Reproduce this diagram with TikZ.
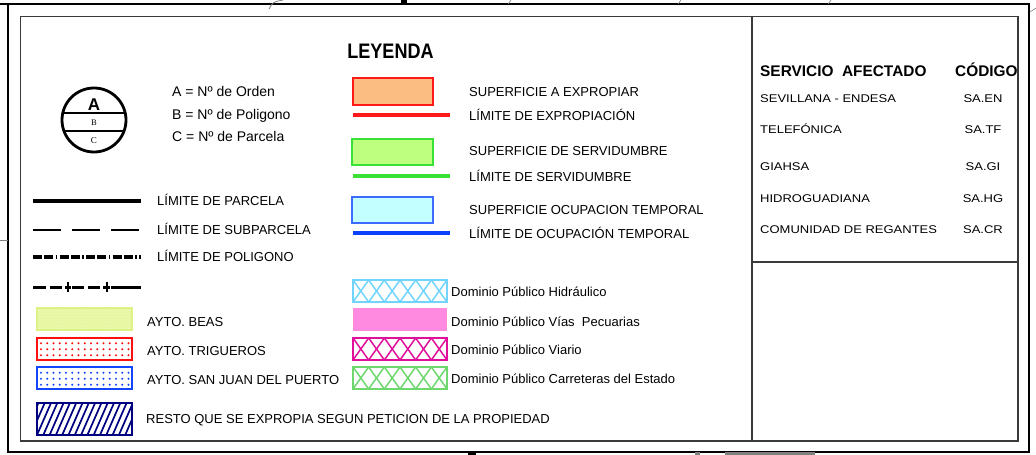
\documentclass[tikz,border=0pt]{standalone}
\usepackage{fontspec}
\setmainfont{Liberation Sans}
\newfontfamily\headfont{Liberation Sans Bold}
\newfontfamily\leyfont[FakeStretch=0.86]{Liberation Sans Bold}
\newfontfamily\tabfont[FakeStretch=1.16]{Liberation Sans}
\newfontfamily\serfont{Liberation Serif}
\usetikzlibrary{patterns}
\definecolor{expfill}{HTML}{FBBD82}
\definecolor{expline}{HTML}{FF1A1A}
\definecolor{serfill}{HTML}{BFFF80}
\definecolor{serline}{HTML}{38E038}
\definecolor{ocufill}{HTML}{C4FFFF}
\definecolor{oculine}{HTML}{3D6BFF}
\definecolor{ocuthick}{HTML}{0A40FF}
\definecolor{hidra}{HTML}{70D4FF}
\definecolor{pecu}{HTML}{FF8AE0}
\definecolor{viario}{HTML}{E0109C}
\definecolor{carre}{HTML}{6ED86E}
\definecolor{beas}{HTML}{DDF285}
\definecolor{beasfill}{HTML}{E6F7A0}
\definecolor{trig}{HTML}{FF1010}
\definecolor{sanjuan}{HTML}{1446FF}
\definecolor{resto}{HTML}{000080}
\definecolor{framegray}{HTML}{3A3A3A}
\definecolor{stray}{HTML}{808080}
\newcommand\myxhatch[3]{%
  \begin{scope}
    \clip (353,#1) rectangle (447,#2);
    \foreach \k in {0,...,5}{%
      \draw[#3,line width=1.5pt] (353+\k*15.67,#1) -- (368.67+\k*15.67,#2);
      \draw[#3,line width=1.5pt] (368.67+\k*15.67,#1) -- (353+\k*15.67,#2);}
  \end{scope}
  \draw[#3,line width=2pt] (353,#1) rectangle (447,#2);}
\begin{document}
\begin{tikzpicture}[x=1pt,y=-1pt,
  txt/.style={anchor=base west,inner sep=0pt,font=\fontsize{13}{15}\selectfont},
  txtA/.style={anchor=base west,inner sep=0pt,font=\fontsize{14}{16}\selectfont},
  tab/.style={anchor=base west,inner sep=0pt,font=\tabfont\fontsize{11.2}{13}\selectfont},
  tabc/.style={anchor=base,inner sep=0pt,font=\tabfont\fontsize{11.2}{13}\selectfont},
  head/.style={anchor=base west,inner sep=0pt,font=\headfont\fontsize{15.4}{17}\selectfont},
  swatch/.style={line width=1.8pt},
  limline/.style={line width=3.4pt}]
\useasboundingbox (0,0) rectangle (1036,455);
% frames
\draw[line width=2.4pt] (0,4) -- (1029,4) -- (1029,452) -- (8,452) -- (8,4);
\draw[framegray,line width=1.4pt] (20.5,16.5) rectangle (1018,441);
\draw[framegray,line width=1.1pt] (752,16.5) -- (752,441);
\draw[framegray,line width=1.1pt] (752,262) -- (1018,262);
% stray marks outside the frame
\draw[stray,line width=0.8pt] (283,0) .. controls (273,2) .. (269,9);
\fill (401,0) rectangle (407,5);
\draw[stray,line width=0.6pt] (508,4) -- (511,0);
\draw[stray,line width=0.6pt] (678,4) -- (681,0);
\draw[stray,line width=0.6pt] (828,4) -- (831,0);
\draw[stray,line width=0.6pt] (1030,12) -- (1036,8);
\draw[stray,line width=0.8pt] (0,240) -- (8,240);
\fill (468,452) rectangle (476,455);
\fill[stray] (695,452) rectangle (700,455);
\fill[stray] (725,452) rectangle (815,455);
% title
\node[anchor=base,inner sep=0pt,font=\leyfont\fontsize{21}{23}\selectfont] (ley) at (390.5,58) {LEYENDA};
% circle symbol
\begin{scope}
  \clip (94,120) circle (32);
  \draw[line width=2.8pt] (50,113) -- (140,113);
  \draw[line width=2.8pt] (50,131) -- (140,131);
\end{scope}
\draw[line width=2.8pt] (94,120) circle (32);
\node[anchor=base,inner sep=0pt,font=\bfseries\fontsize{17}{18}\selectfont] (symA) at (94,110) {A};
\node[anchor=base,inner sep=0pt,font=\serfont\fontsize{8.5}{9}\selectfont] (symB) at (94,125) {B};
\node[anchor=base,inner sep=0pt,font=\serfont\fontsize{9}{9}\selectfont] (symC) at (94,143) {C};
\node[txtA] (la) at (172,96.7) {A = Nº de Orden};
\node[txtA] (lb) at (172,119) {B = Nº de Poligono};
\node[txtA] (lc) at (172,141) {C = Nº de Parcela};
% line types
\draw[line width=3.4pt] (33,201) -- (141,201);
\node[txt] (lpar) at (157,205.5) {LÍMITE DE PARCELA};
\draw[line width=2.6pt,dash pattern=on 28pt off 11pt] (33,230) -- (141,230);
\node[txt] (lsub) at (157,234.6) {LÍMITE DE SUBPARCELA};
\draw[line width=4pt,dash pattern=on 9pt off 2pt on 9pt off 2.5pt on 1.5pt off 2.5pt] (33,256.5) -- (141,256.5);
\node[txt] (lpol) at (157,261.3) {LÍMITE DE POLIGONO};
\draw[line width=3pt] (33,287) -- (46,287) (50,287) -- (62,287) (65,287) -- (71,287)
  (72,287) -- (84,287) (88,287) -- (100,287) (103,287) -- (110,287) (111,287) -- (141,287);
\draw[line width=2.6pt] (68,282) -- (68,292) (107,282) -- (107,292);
% ayuntamientos
\fill[beasfill] (37,308) rectangle (132,330);
\path[pattern=dots,pattern color=white] (37,308) rectangle (132,330);
\draw[beas,line width=2.2pt] (37,308) rectangle (132,330);
\node[txt] (beas) at (147,326.4) {AYTO. BEAS};
\draw[trig,line width=2.2pt] (37,338) rectangle (132,360);
\foreach \i in {0,...,14}{\foreach \j in {0,1,2}{\fill[trig] (41+\i*6.25,343.3+\j*6) circle (1.15);}}
\node[txt] (trigu) at (147,355.4) {AYTO. TRIGUEROS};
\draw[sanjuan,line width=2.2pt] (37,367) rectangle (132,389);
\foreach \i in {0,...,14}{\foreach \j in {0,1,2}{\fill[sanjuan] (41+\i*6.25,372.7+\j*6) circle (1.15);}}
\node[txt] (sjuan) at (147,384) {AYTO. SAN JUAN DEL PUERTO};
\begin{scope}
  \clip (37,403) rectangle (132,435);
  \foreach \k in {-3,...,16}{\draw[resto,line width=1.7pt] (37+\k*6.3,435) -- (51+\k*6.3,403);}
\end{scope}
\draw[resto,line width=2.4pt] (37,403) rectangle (132,435);
\node[txt] (resto) at (146,423) {RESTO QUE SE EXPROPIA SEGUN PETICION DE LA PROPIEDAD};
% superficies
\draw[expline,fill=expfill,swatch] (353,78) rectangle (433,105);
\node[txt] (supexp) at (469,96.4) {SUPERFICIE A EXPROPIAR};
\draw[expline,limline] (353,115) -- (450,115);
\node[txt] (limexp) at (469,120.7) {LÍMITE DE EXPROPIACIÓN};
\draw[serline,fill=serfill,swatch] (352,139) rectangle (433,165);
\node[txt] (supser) at (469,155.4) {SUPERFICIE DE SERVIDUMBRE};
\draw[serline,limline] (353,176) -- (450,176);
\node[txt] (limser) at (469,181.4) {LÍMITE DE SERVIDUMBRE};
\draw[oculine,fill=ocufill,swatch] (352,197) rectangle (433,223);
\node[txt] (supocu) at (469,214) {SUPERFICIE OCUPACION TEMPORAL};
\draw[ocuthick,limline] (353,233) -- (450,233);
\node[txt] (limocu) at (469,238) {LÍMITE DE OCUPACIÓN TEMPORAL};
% dominios
\myxhatch{280}{302}{hidra}
\node[txt] (dhid) at (451,296.4) {Dominio Público Hidráulico};
\fill[pecu] (353,308) rectangle (447,331);
\node[txt] (dpec) at (451,326.4) {Dominio Público Vías\ \ Pecuarias};
\myxhatch{338}{360}{viario}
\node[txt] (dvia) at (451,354.7) {Dominio Público Viario};
\myxhatch{367}{389}{carre}
\node[txt] (dcar) at (451,383.7) {Dominio Público Carreteras del Estado};
% servicios afectados
\node[head] (hserv) at (760,76) {SERVICIO\ \ AFECTADO};
\node[head] (hcod) at (955,76) {CÓDIGO};
\node[tab] (s1) at (760,102) {SEVILLANA - ENDESA};
\node[tab] (s2) at (760,133) {TELEFÓNICA};
\node[tab] (s3) at (760,170) {GIAHSA};
\node[tab] (s4) at (760,202) {HIDROGUADIANA};
\node[tab] (s5) at (760,233) {COMUNIDAD DE REGANTES};
\node[tabc] (c1) at (983,102) {SA.EN};
\node[tabc] (c2) at (983,133) {SA.TF};
\node[tabc] (c3) at (983,170) {SA.GI};
\node[tabc] (c4) at (983,202) {SA.HG};
\node[tabc] (c5) at (983,233) {SA.CR};
\end{tikzpicture}
\end{document}
